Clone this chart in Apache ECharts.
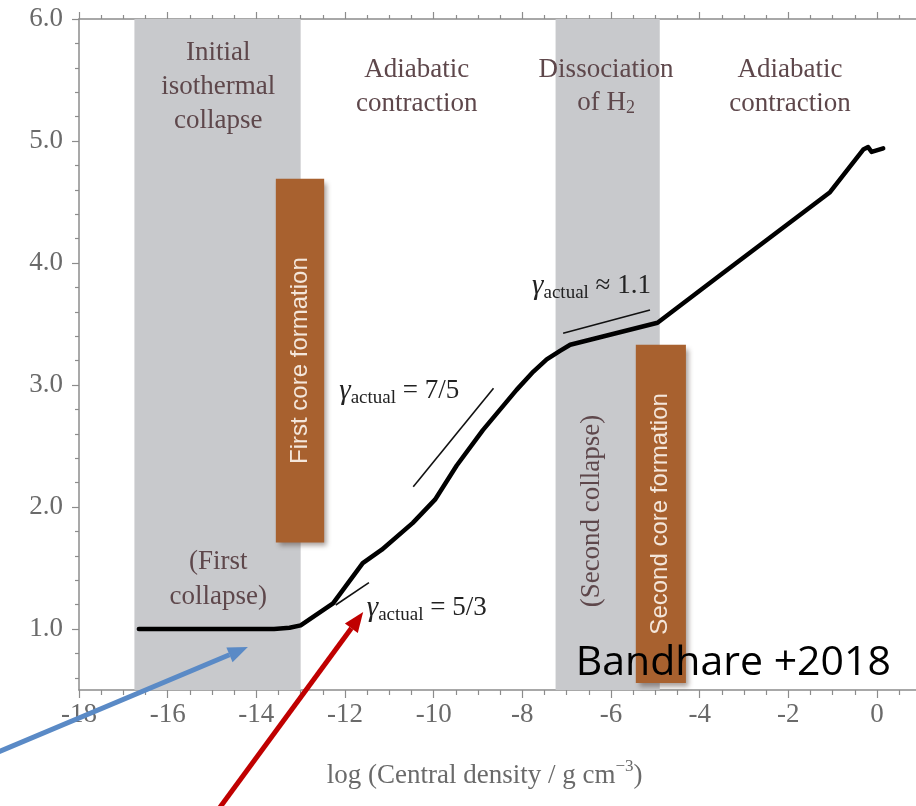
<!DOCTYPE html>
<html>
<head>
<meta charset="utf-8">
<script src="https://cdn.jsdelivr.net/npm/echarts@6/dist/echarts.min.js"></script>
<style>
  html, body { margin: 0; padding: 0; background: #ffffff; }
  #chart { width: 916px; height: 806px; }
</style>
</head>
<body>
<div id="chart"></div>
<script>
// Evolution of central temperature vs. central density during protostellar collapse
const logDensity = [-16.65, -13.6, -13.25, -13.0, -12.27, -11.6, -11.17, -10.47, -9.97, -9.48, -8.89, -8.13, -7.75, -7.45, -7.15, -6.92, -4.95, -3.54, -1.06, -0.31, -0.2, -0.12, 0.14];
const logTemp    = [1.0,    1.0,   1.01,   1.03,  1.21,   1.54,  1.65,   1.87,   2.06,  2.34,  2.63,  2.96,  3.11,  3.21,  3.28,  3.33,  3.51,  3.90,  4.58,  4.93,  4.95, 4.91, 4.94];

// reference slopes (gamma_actual)
const slope53 = [[-12.21, 1.197], [-11.46, 1.38]];
const slope75 = [[-10.46, 2.166], [-8.65, 2.973]];
const slope11 = [[-7.08, 3.424], [-5.12, 3.615]];

// shaded phases (log density ranges)
const bandStart = [-16.75, -7.25];
const bandEnd   = [-13.0, -4.9];

// core formation boxes
const coreNames = ['First core formation', 'Second core formation'];
const coreX0 = [-13.56, -5.44];
const coreX1 = [-12.47, -4.31];
const coreY0 = [1.71, 0.557];
const coreY1 = [4.69, 3.33];

// tick labels
const xMajor = [-18, -16, -14, -12, -10, -8, -6, -4, -2, 0];
const xMinor = [];
for (let v = -17.5; v <= 0.5; v += 0.5) { if (Math.abs(v % 2) > 1e-6) xMinor.push(v); }
const yMajor = [1, 2, 3, 4, 5, 6];
const yMinor = [];
for (let k = 3; k <= 29; k++) { const v = k / 5; if (Math.abs(v - Math.round(v)) > 1e-6) yMinor.push(+v.toFixed(1)); }

const SERIF = '"Liberation Serif", "Times New Roman", serif';
const SANS = '"Liberation Sans", Arial, sans-serif';
const AXIS_GRAY = '#8c8c8c';
const LABEL_GRAY = '#6a6a6a';
const PHASE_TXT = '#5e474b';

const chart = echarts.init(document.getElementById('chart'), null, { renderer: 'canvas' });

function xAx(pos, values, len, showLine, showLabel) {
  return {
    type: 'value', min: -18, max: 0.88, position: pos,
    axisLine: { show: showLine, onZero: false, lineStyle: { color: AXIS_GRAY, width: 1.5 } },
    axisTick: { show: true, customValues: values, length: len, lineStyle: { color: AXIS_GRAY, width: 1.2 } },
    axisLabel: showLabel ? { show: true, customValues: values, color: LABEL_GRAY, fontFamily: SERIF, fontSize: 27, margin: 11, formatter: v => String(v) } : { show: false },
    splitLine: { show: false }
  };
}
function yAx(values, len, showLine, showLabel) {
  return {
    type: 'value', min: 0.5, max: 6, position: 'left',
    axisLine: { show: showLine, onZero: false, lineStyle: { color: AXIS_GRAY, width: 1.5 } },
    axisTick: { show: true, customValues: values, length: len, lineStyle: { color: AXIS_GRAY, width: 1.2 } },
    axisLabel: showLabel ? { show: true, customValues: values, color: LABEL_GRAY, fontFamily: SERIF, fontSize: 27, margin: 16, formatter: v => v.toFixed(1) } : { show: false },
    splitLine: { show: false }
  };
}

const curveData = logDensity.map((x, i) => [x, logTemp[i]]);

chart.setOption({
  animation: false,
  backgroundColor: '#ffffff',
  grid: { left: 79, right: 0, top: 19, bottom: 116, containLabel: false },
  xAxis: [
    xAx('bottom', xMajor, 8, true, true),
    xAx('bottom', xMinor, 5, false, false),
    xAx('top', xMajor, 7, true, false),
    xAx('top', xMinor, 4, false, false)
  ],
  yAxis: [
    yAx(yMajor, 7, true, true),
    yAx(yMinor, 4, false, false)
  ],
  series: [
    {
      type: 'custom', name: 'phases', z: 1, silent: true,
      data: bandStart.map((s, i) => [s, bandEnd[i]]),
      renderItem: (params, api) => {
        const a = api.coord([api.value(0), 6]);
        const b = api.coord([api.value(1), 0.5]);
        return { type: 'rect', shape: { x: a[0], y: a[1], width: b[0] - a[0], height: b[1] - a[1] },
                 style: { fill: '#c8c9cc' } };
      }
    },
    {
      type: 'custom', name: 'cores', z: 3, silent: true,
      data: coreX0.map((x, i) => [x, coreX1[i], coreY0[i], coreY1[i]]),
      renderItem: (params, api) => {
        const a = api.coord([api.value(0), api.value(3)]);
        const b = api.coord([api.value(1), api.value(2)]);
        return { type: 'group', children: [
          { type: 'rect', shape: { x: a[0], y: a[1], width: b[0] - a[0], height: b[1] - a[1] },
            style: { fill: '#a8612f', shadowBlur: 5, shadowOffsetX: 3, shadowOffsetY: 4, shadowColor: 'rgba(60,40,30,0.45)' } },
          { type: 'text', x: (a[0] + b[0]) / 2, y: (a[1] + b[1]) / 2, rotation: Math.PI / 2,
            style: { text: coreNames[params.dataIndex], fill: '#f4e6da', font: '24px ' + SANS, align: 'center', verticalAlign: 'middle' } }
        ] };
      }
    },
    {
      type: 'line', name: 'collapse track', z: 5, data: curveData, showSymbol: false, symbol: 'none',
      lineStyle: { color: '#000000', width: 4.5, cap: 'round', join: 'round' }
    },
    { type: 'line', z: 5, data: slope53, symbol: 'none', lineStyle: { color: '#111', width: 1.6 } },
    { type: 'line', z: 5, data: slope75, symbol: 'none', lineStyle: { color: '#111', width: 1.6 } },
    { type: 'line', z: 5, data: slope11, symbol: 'none', lineStyle: { color: '#111', width: 1.6 } }
  ]
});

// ---- annotations placed in data coordinates ----
const px = (x, y) => chart.convertToPixel({ xAxisIndex: 0, yAxisIndex: 0 }, [x, y]);
const measureCtx = document.createElement('canvas').getContext('2d');
const textWidth = (t, font) => { measureCtx.font = font; return measureCtx.measureText(t).width; };

const graphics = [];

function centeredLines(lines, x, y, lineH, font, color) {
  const p = px(x, y);
  const top = p[1] - (lines.length - 1) * lineH / 2;
  lines.forEach((ln, i) => {
    graphics.push({ type: 'text', z: 20, x: p[0], y: top + i * lineH,
      style: { text: ln, font: font, fill: color, align: 'center', verticalAlign: 'middle' } });
  });
}

// chained text pieces (for subscripts / superscripts)
function pieces(parts, x, y, align) {
  const p = px(x, y);
  const total = parts.reduce((s, q) => s + textWidth(q.t, q.font), 0);
  let cx = align === 'center' ? p[0] - total / 2 : p[0];
  parts.forEach(q => {
    graphics.push({ type: 'text', z: 20, x: cx, y: p[1] + (q.dy || 0),
      style: { text: q.t, font: q.font, fill: q.color, align: 'left', verticalAlign: 'middle' } });
    cx += textWidth(q.t, q.font);
  });
}

const PHASE_FONT = '27px ' + SERIF;
centeredLines(['Initial', 'isothermal', 'collapse'], -14.86, 5.447, 34, PHASE_FONT, PHASE_TXT);
centeredLines(['Adiabatic', 'contraction'], -10.38, 5.447, 34, PHASE_FONT, PHASE_TXT);
centeredLines(['Dissociation'], -6.11, 5.585, 34, PHASE_FONT, PHASE_TXT);
pieces([
  { t: 'of H', font: PHASE_FONT, color: PHASE_TXT },
  { t: '2', font: '18px ' + SERIF, color: PHASE_TXT, dy: 5 }
], -6.11, 5.31, 'center');
centeredLines(['Adiabatic', 'contraction'], -1.96, 5.447, 34, PHASE_FONT, PHASE_TXT);
centeredLines(['(First', 'collapse)'], -14.86, 1.406, 35, PHASE_FONT, PHASE_TXT);

// rotated phase label inside the second band
(function () {
  const p = px(-6.43, 1.967);
  graphics.push({ type: 'text', z: 20, x: p[0], y: p[1], rotation: Math.PI / 2,
    style: { text: '(Second collapse)', font: PHASE_FONT, fill: PHASE_TXT, align: 'center', verticalAlign: 'middle' } });
})();

// gamma labels
const G_FONT = 'italic 29px ' + SERIF;
const SUB_FONT = '19px ' + SERIF;
const EQ_FONT = '27px ' + SERIF;
function gammaLabel(rhs, x, y) {
  pieces([
    { t: 'γ', font: G_FONT, color: '#222' },
    { t: 'actual', font: SUB_FONT, color: '#222', dy: 7 },
    { t: rhs, font: EQ_FONT, color: '#222' }
  ], x, y, 'left');
}
gammaLabel(' = 5/3', -11.51, 1.172);
gammaLabel(' = 7/5', -12.13, 2.95);
gammaLabel(' ≈ 1.1', -7.78, 3.81);

// x-axis title
pieces([
  { t: 'log (Central density / g cm', font: '27px ' + SERIF, color: LABEL_GRAY },
  { t: '−3', font: '17px ' + SERIF, color: LABEL_GRAY, dy: -9 },
  { t: ')', font: '27px ' + SERIF, color: LABEL_GRAY }
], -8.85, -0.205, 'center');

// citation
(function () {
  const p = px(-3.24, 0.72);
  graphics.push({ type: 'text', z: 30, x: p[0], y: p[1],
    style: { text: 'Bandhare +2018', font: '41px "Open Sans", "Noto Sans", sans-serif', fill: '#000', align: 'center', verticalAlign: 'middle' } });
})();

// pointer arrows
function arrow(from, to, color) {
  const a = px(from[0], from[1]);
  const b = px(to[0], to[1]);
  const ang = Math.atan2(b[1] - a[1], b[0] - a[0]);
  const headL = 20, headW = 8;
  const base = [b[0] - headL * Math.cos(ang), b[1] - headL * Math.sin(ang)];
  graphics.push({ type: 'line', z: 40, shape: { x1: a[0], y1: a[1], x2: base[0], y2: base[1] },
    style: { stroke: color, lineWidth: 5 } });
  graphics.push({ type: 'polygon', z: 40, shape: { points: [
      b,
      [base[0] + headW * Math.sin(ang), base[1] - headW * Math.cos(ang)],
      [base[0] - headW * Math.sin(ang), base[1] + headW * Math.cos(ang)]
    ] }, style: { fill: color } });
}
arrow([-19.9, -0.02], [-14.19, 0.852], '#5a8ac6');
arrow([-15.1, -0.6], [-11.59, 1.139], '#c00000');

chart.setOption({ graphic: graphics });
</script>
</body>
</html>
